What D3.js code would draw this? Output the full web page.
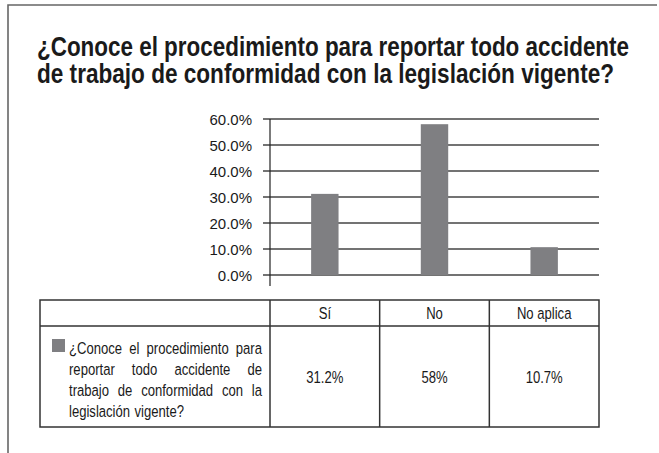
<!DOCTYPE html>
<html>
<head>
<meta charset="utf-8">
<script src="https://cdn.jsdelivr.net/npm/d3@7"></script>
<style>
  body { margin: 0; background: #fff; }
  svg { display: block; }
</style>
</head>
<body>
<svg id="chart" width="659" height="453"></svg>
<script>
// data
var titleLines = ['¿Conoce el procedimiento para reportar todo accidente',
  'de trabajo de conformidad con la legislación vigente?'];
var categories = ['Sí', 'No', 'No aplica'];
var values = [31.2, 58, 10.7];
var valueLabels = ['31.2%', '58%', '10.7%'];
var yTicks = [0, 10, 20, 30, 40, 50, 60];
var seriesLines = ['¿Conoce el procedimiento para', 'reportar todo accidente de',
  'trabajo de conformidad con la', 'legislación vigente?'];

var barColor = '#7f7f82';
var sans = '"Liberation Sans", Arial, sans-serif';
var squeeze = 0.77; // no narrow font installed, so squeeze Liberation Sans

var svg = d3.select('#chart');

// condensed text: a text node scaled horizontally around its own anchor
function narrowText(parent, x, y, str, size, anchor) {
  return parent.append('text')
    .attr('transform', 'translate(' + x + ',' + y + ') scale(' + squeeze + ',1)')
    .attr('font-family', sans)
    .attr('font-size', size)
    .attr('text-anchor', anchor || 'start')
    .attr('fill', '#1a1a1a')
    .text(str);
}

// page frame (top and left edges only)
svg.append('path')
  .attr('d', 'M8,453V5H657')
  .attr('fill', 'none')
  .attr('stroke', '#666')
  .attr('stroke-width', 1.6);

// title
svg.append('g').selectAll('text')
  .data(titleLines)
  .enter().append('text')
  .attr('x', 37)
  .attr('y', function (d, i) { return 56 + i * 27; })
  .attr('font-family', sans)
  .attr('font-weight', 'bold')
  .attr('font-size', 27)
  .attr('fill', '#1a1a1a')
  .attr('textLength', function (d, i) { return i === 0 ? 592 : 577; })
  .attr('lengthAdjust', 'spacingAndGlyphs')
  .text(function (d) { return d; });

// plot
var x0 = 270, x1 = 599;
var x = d3.scaleBand()
  .domain(categories)
  .range([x0, x1])
  .paddingInner(0.75)
  .paddingOuter(0.375);
var y = d3.scaleLinear().domain([0, 60]).range([275, 119]);

svg.append('g').selectAll('line')
  .data(yTicks)
  .enter().append('line')
  .attr('x1', x0 - 7)
  .attr('x2', x1)
  .attr('y1', function (d) { return y(d); })
  .attr('y2', function (d) { return y(d); })
  .attr('stroke', '#444')
  .attr('stroke-width', 1.5);

svg.append('g').selectAll('text')
  .data(yTicks)
  .enter().append('text')
  .attr('x', 252)
  .attr('y', function (d) { return y(d) + 5.5; })
  .attr('text-anchor', 'end')
  .attr('font-family', sans)
  .attr('font-size', 15)
  .attr('fill', '#1a1a1a')
  .text(function (d) { return d3.format('.1f')(d) + '%'; });

svg.selectAll('rect.bar')
  .data(values)
  .enter().append('rect')
  .attr('class', 'bar')
  .attr('x', function (d, i) { return x(categories[i]); })
  .attr('width', x.bandwidth())
  .attr('y', function (d) { return y(d); })
  .attr('height', function (d) { return y(0) - y(d); })
  .attr('fill', barColor);

svg.append('line')
  .attr('x1', x0).attr('x2', x0)
  .attr('y1', y(60)).attr('y2', 286)
  .attr('stroke', '#222')
  .attr('stroke-width', 1.2);

// data table, columns follow the category bands
var tLeft = 40, tRight = x1, tTop = 300, tMid = 326, tBottom = 427;
var colEdges = [tLeft].concat(categories.map(function (c) {
  return x(c) - x.step() * x.paddingInner() / 2;
}), [tRight]);
var table = svg.append('g')
  .attr('fill', 'none')
  .attr('stroke', '#333')
  .attr('stroke-width', 1.5);
table.append('rect')
  .attr('x', tLeft).attr('y', tTop)
  .attr('width', tRight - tLeft).attr('height', tBottom - tTop);
table.append('line')
  .attr('x1', tLeft).attr('x2', tRight)
  .attr('y1', tMid).attr('y2', tMid);
table.selectAll('line.col')
  .data(colEdges.slice(1, 4))
  .enter().append('line')
  .attr('class', 'col')
  .attr('x1', function (d) { return d; }).attr('x2', function (d) { return d; })
  .attr('y1', tTop).attr('y2', tBottom);

var cells = svg.append('g');
categories.forEach(function (c, i) {
  var cx = x(c) + x.bandwidth() / 2;
  narrowText(cells, cx, tMid - 7, c, 17, 'middle');
  narrowText(cells, cx, (tMid + tBottom) / 2 + 6, valueLabels[i], 17, 'middle');
});

// legend key and justified series name
svg.append('rect')
  .attr('x', 52).attr('y', 339)
  .attr('width', 13).attr('height', 13)
  .attr('fill', barColor);

var textLeft = 69, textRight = 262;
var legend = svg.append('g');
seriesLines.forEach(function (line, li) {
  var words = line.split(' ');
  var ly = 354 + li * 21;
  var last = li === seriesLines.length - 1;
  var nodes = words.map(function (w) {
    return narrowText(legend, 0, ly, w, 17);
  });
  var widths = nodes.map(function (n) { return n.node().getComputedTextLength() * squeeze; });
  var total = d3.sum(widths);
  var gap = last ? 4.5 : (textRight - textLeft - total) / (words.length - 1);
  var cx = textLeft;
  nodes.forEach(function (n, i) {
    n.attr('transform', 'translate(' + cx + ',' + ly + ') scale(' + squeeze + ',1)');
    cx += widths[i] + gap;
  });
});
</script>
</body>
</html>
